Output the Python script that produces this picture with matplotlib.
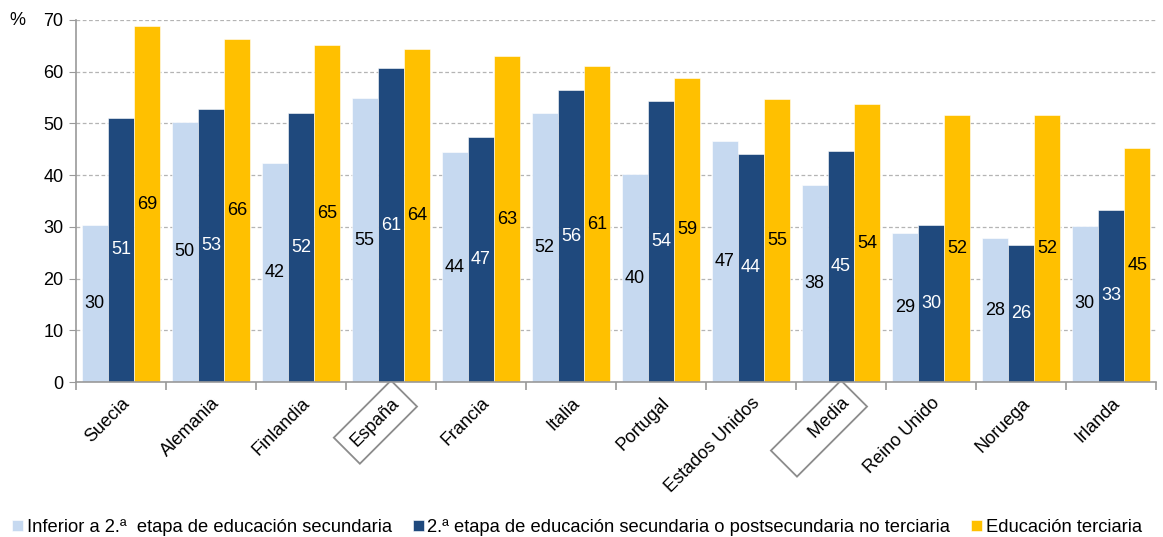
import numpy as np
import matplotlib.pyplot as plt

plt.rcParams['font.family'] = ['Liberation Sans', 'DejaVu Sans']

# -------------------------
# Data
# -------------------------
paises = ["Suecia", "Alemania", "Finlandia", "España", "Francia", "Italia",
          "Portugal", "Estados Unidos", "Media", "Reino Unido", "Noruega", "Irlanda"]
inferior = [30.4, 50.3, 42.3, 54.9, 44.4, 52.0, 40.2, 46.6, 38.1, 28.8, 27.8, 30.2]
secundaria = [51.1, 52.8, 52.0, 60.7, 47.4, 56.4, 54.4, 44.1, 44.6, 30.4, 26.4, 33.3]
terciaria = [68.8, 66.4, 65.1, 64.3, 63.0, 61.1, 58.8, 54.7, 53.7, 51.7, 51.7, 45.2]
series_names = ["Inferior a 2.ª  etapa de educación secundaria",
                "2.ª etapa de educación secundaria o postsecundaria no terciaria",
                "Educación terciaria"]
destacados = ["España", "Media"]

colors = ["#C6D9F0", "#1F497D", "#FFC000"]
label_colors = ["black", "white", "black"]

# -------------------------
# Figure
# -------------------------
fig = plt.figure(figsize=(11.63, 5.37), dpi=100)
ax = fig.add_axes([0.0653, 0.2886, 0.9287, 0.6742])

x = np.arange(len(paises))
w = 0.292
handles = []
for i, (vals, c, lc) in enumerate(zip([inferior, secundaria, terciaria], colors, label_colors)):
    bars = ax.bar(x + (i - 1) * w, vals, w, color=c, edgecolor="white", linewidth=0.4,
                  zorder=2)
    handles.append(bars)
    for b, v in zip(bars, vals):
        ax.text(b.get_x() + b.get_width() / 2, v / 2, f"{v:.0f}", ha="center", va="center",
                color=lc, fontsize=13, zorder=3)

ax.set_xlim(-0.5, len(paises) - 0.5)
ax.set_ylim(0, 70)
ax.set_yticks(np.arange(0, 71, 10))
ax.yaxis.grid(True, linestyle=(0, (3, 2)), color="#b4b4b4", linewidth=0.9, zorder=0)
ax.set_axisbelow(True)

for s in ["top", "right"]:
    ax.spines[s].set_visible(False)
for s in ["left", "bottom"]:
    ax.spines[s].set_color("#999999")
    ax.spines[s].set_linewidth(1.2)

ax.tick_params(axis="y", labelsize=13, length=5, color="#999999", pad=4)
ax.set_xticks(np.arange(-0.5, len(paises), 1))
ax.set_xticklabels([])
ax.tick_params(axis="x", which="major", length=6, color="#999999", width=1.2)

# country names, España and Media framed
nombres = ["\u00a0" * 6 + p if p == "Media" else p for p in paises]
ax.set_xticks(x, minor=True)
ax.set_xticklabels(nombres, minor=True, rotation=45, ha="right", va="top",
                   rotation_mode="anchor", fontsize=13)
ax.tick_params(axis="x", which="minor", length=0, pad=9)
for lbl in ax.get_xticklabels(minor=True):
    if lbl.get_text().replace("\u00a0", "") in destacados:
        lbl.set_bbox(dict(boxstyle="square,pad=0.55", fc="none", ec="#8c8c8c", lw=1.3))

fig.text(0.008, 0.962, "%", fontsize=13, va="center")

fig.legend(handles, series_names, loc="lower left", bbox_to_anchor=(0.004, -0.012),
           ncol=3, frameon=False, fontsize=13.2, handlelength=0.6, handleheight=0.6,
           handletextpad=0.2, columnspacing=1.15, borderaxespad=0)

fig.savefig("out.png", dpi=100)
